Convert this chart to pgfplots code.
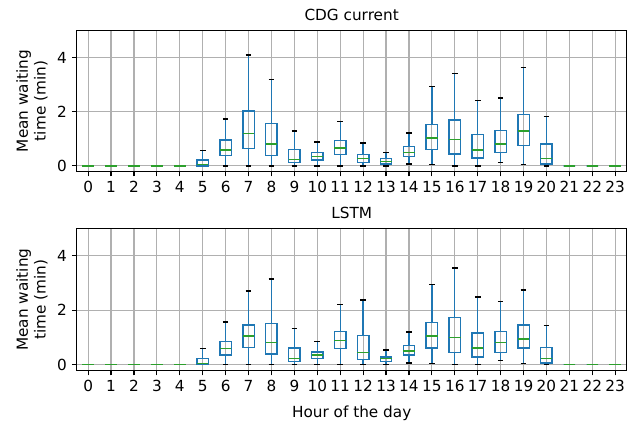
\documentclass[border=0pt]{standalone}
\usepackage{fontspec}
\setmainfont{DejaVu Sans}
\usepackage{pgfplots}
\usepackage{pgfplotstable}
\pgfplotsset{compat=1.18}
\usepgfplotslibrary{statistics}

\definecolor{C0}{HTML}{1F77B4}
\definecolor{C2}{HTML}{2CA02C}
\definecolor{gridgray}{HTML}{B0B0B0}

% hour, lower whisker, Q1, median, Q3, upper whisker
\pgfplotstableread{
h lw q1 med q3 uw
0 0 0 0 0 0
1 0 0 0 0 0
2 0 0 0 0 0
3 0 0 0 0 0
4 0 0 0 0 0
5 0 0 0.05 0.22 0.56
6 0 0.37 0.59 0.96 1.73
7 0 0.64 1.19 2.02 4.10
8 0 0.37 0.80 1.56 3.18
9 0 0.12 0.23 0.61 1.29
10 0 0.22 0.34 0.49 0.88
11 0 0.42 0.66 0.93 1.63
12 0 0.12 0.26 0.42 0.85
13 0 0.07 0.17 0.27 0.50
14 0.07 0.34 0.50 0.71 1.21
15 0.04 0.60 1.03 1.53 2.92
16 0 0.44 0.97 1.69 3.42
17 0 0.29 0.59 1.15 2.42
18 0.12 0.49 0.80 1.31 2.50
19 0.04 0.75 1.29 1.90 3.64
20 0 0.06 0.28 0.80 1.83
21 0 0 0 0 0
22 0 0 0 0 0
23 0 0 0 0 0
}\cdg

\pgfplotstableread{
h lw q1 med q3 uw
0 0 0 0 0 0
1 0 0 0 0 0
2 0 0 0 0 0
3 0 0 0 0 0
4 0 0 0 0 0
5 0 0 0.05 0.23 0.60
6 0 0.36 0.60 0.85 1.57
7 0 0.63 1.05 1.46 2.70
8 0 0.39 0.82 1.51 3.15
9 0 0.13 0.24 0.61 1.33
10 0 0.22 0.36 0.47 0.85
11 0 0.60 0.89 1.23 2.21
12 0 0.19 0.44 1.08 2.37
13 0 0.12 0.23 0.29 0.54
14 0.07 0.36 0.50 0.71 1.20
15 0.04 0.62 1.05 1.56 2.94
16 0 0.45 0.99 1.73 3.55
17 0 0.29 0.62 1.16 2.48
18 0.15 0.46 0.82 1.23 2.32
19 0.04 0.61 0.95 1.46 2.75
20 0 0.06 0.22 0.64 1.44
21 0 0 0 0 0
22 0 0 0 0 0
23 0 0 0 0 0
}\lstm

\pgfplotsset{
  boxplot/draw/lower whisker/.code={%
    \draw[/pgfplots/boxplot/every whisker/.try]
      (boxplot box cs:\pgfplotsboxplotvalue{lower whisker},0.5) --
      (boxplot box cs:\pgfplotsboxplotvalue{lower quartile},0.5);
    \draw[black, line width=1pt]
      (boxplot whisker cs:\pgfplotsboxplotvalue{lower whisker},0) --
      (boxplot whisker cs:\pgfplotsboxplotvalue{lower whisker},1);
  },
  boxplot/draw/upper whisker/.code={%
    \draw[/pgfplots/boxplot/every whisker/.try]
      (boxplot box cs:\pgfplotsboxplotvalue{upper whisker},0.5) --
      (boxplot box cs:\pgfplotsboxplotvalue{upper quartile},0.5);
    \draw[black, line width=1pt]
      (boxplot whisker cs:\pgfplotsboxplotvalue{upper whisker},0) --
      (boxplot whisker cs:\pgfplotsboxplotvalue{upper whisker},1);
  },
  boxstyle/.style={draw=C0, line width=1pt,
    boxplot/draw direction=y,
    boxplot/every median/.style={draw=C2, line width=1pt}},
  panel/.style={
    scale only axis,
    width=396pt,
    anchor=south west,
    font=\fontsize{11}{12.8}\selectfont,
    xmin=-0.5, xmax=23.5,
    ymin=-0.21, ymax=5,
    xtick={0,...,23},
    ytick={0,2,4},
    xtick pos=bottom, ytick pos=left,
    tick align=outside,
    major tick length=3.5pt,
    tick style={black, line width=0.8pt},
    axis line style={black, line width=0.8pt},
    grid=major,
    major grid style={draw=gridgray, line width=0.8pt},
    /pgf/number format/assume math mode=true,
    ylabel={Mean waiting\\time (min)},
    ylabel style={align=center},
    xlabel style={yshift=-3pt},
    every axis title shift=0pt,
    title style={at={(0.5,1)}, anchor=base, yshift=7pt},
  },
}

% draws the 24 boxes of one table
\newcommand\hourboxes[1]{%
  \pgfplotsinvokeforeach{0,...,23}{%
    \pgfplotstablegetelem{##1}{lw}\of#1\let\vlw\pgfplotsretval
    \pgfplotstablegetelem{##1}{q1}\of#1\let\vqa\pgfplotsretval
    \pgfplotstablegetelem{##1}{med}\of#1\let\vmed\pgfplotsretval
    \pgfplotstablegetelem{##1}{q3}\of#1\let\vqb\pgfplotsretval
    \pgfplotstablegetelem{##1}{uw}\of#1\let\vuw\pgfplotsretval
    \edef\doplot{\noexpand\addplot[boxstyle,
      boxplot prepared={draw position=##1, box extend=0.5, whisker extend=0.25,
        lower whisker=\vlw, lower quartile=\vqa, median=\vmed,
        upper quartile=\vqb, upper whisker=\vuw}] coordinates {};}%
    \doplot
  }%
}

\begin{document}
\begin{tikzpicture}
\path[use as bounding box] (0,0) rectangle (457.92pt,305.28pt);

\begin{axis}[panel, at={(55.2pt,181.8pt)}, height=101.52pt, title={CDG current}]
\hourboxes{\cdg}
\end{axis}

\begin{axis}[panel, at={(55.2pt,38.52pt)}, height=102.24pt, title={LSTM},
  xlabel={Hour of the day}]
\hourboxes{\lstm}
\end{axis}
\end{tikzpicture}
\end{document}
